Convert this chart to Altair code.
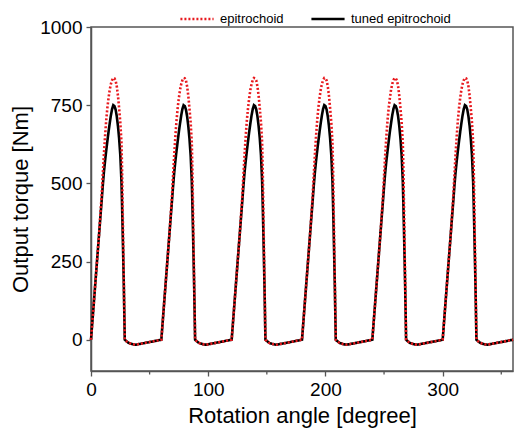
import altair as alt
import pandas as pd

# One 60-degree cycle (angle offset within cycle, torque in Nm)
cycle_offset = [0, 1, 2, 3, 4, 5, 6, 7, 8, 9, 10, 11, 12, 13, 14, 15, 16, 17, 18, 19,
                20, 21, 22, 23, 24, 25, 26, 26.5, 27, 27.5, 28, 28.8,
                30, 32, 35, 38, 45, 52]
tuned_cycle = [0, 49, 98, 147, 196, 245, 294, 343, 392, 440, 490, 535, 572, 605, 636, 666, 693, 718, 738, 750,
               747, 736, 714, 683, 643, 590, 505, 432, 350, 262, 172, 0,
               -4, -10, -14, -16, -11, -6]
epi_cycle = [0, 49, 98, 147, 196, 245, 294, 343, 400, 455, 525, 592, 652, 703, 743, 774, 800, 818, 830, 837,
             836, 829, 810, 780, 740, 695, 630, 545, 425, 305, 185, 0,
             -4, -10, -14, -16, -11, -6]
cycle_starts = [0, 60, 120, 180, 240, 300]
end_angle = [360]
end_value = [0]

series_names = ["epitrochoid", "tuned epitrochoid"]
x_ticks = [0, 100, 200, 300]
x_minor_ticks = [50, 150, 250, 350]
y_ticks = [0, 250, 500, 750, 1000]

rows = []
for name, vals in [("tuned epitrochoid", tuned_cycle), ("epitrochoid", epi_cycle)]:
    for s in cycle_starts:
        for o, v in zip(cycle_offset, vals):
            rows.append({"angle": s + o, "torque": v, "series": name})
    for a, v in zip(end_angle, end_value):
        rows.append({"angle": a, "torque": v, "series": name})
df = pd.DataFrame(rows)

FONT = "Liberation Sans"
AX = "#555555"

x_enc = alt.X("angle:Q", scale=alt.Scale(domain=[0, 360], nice=False, zero=False),
              axis=alt.Axis(values=x_ticks, title="Rotation angle [degree]", format="d",
                            grid=False, tickSize=5, labelPadding=4, titlePadding=6,
                            labelFlush=False))
y_enc = alt.Y("torque:Q", scale=alt.Scale(domain=[-100, 1000], nice=False),
              axis=alt.Axis(values=y_ticks, title="Output torque [Nm]", format="d",
                            grid=False, tickSize=5, labelPadding=4, titlePadding=7,
                            labelFlush=False))
color = alt.Color("series:N", scale=alt.Scale(domain=series_names, range=["#e8191e", "#000000"]),
                  legend=alt.Legend(title=None, orient="none", legendX=88, legendY=-26,
                                    direction="horizontal", symbolType="stroke",
                                    symbolSize=1100, symbolStrokeWidth=2.5,
                                    labelFontSize=13, labelFont=FONT, labelColor="#000000",
                                    columnPadding=22, labelOffset=5))
dash = alt.StrokeDash("series:N", scale=alt.Scale(domain=series_names, range=[[2, 2], [1, 0]]),
                      legend=None)

black = alt.Chart(df[df.series == "tuned epitrochoid"]).mark_line(strokeWidth=2.6).encode(
    x=x_enc, y=y_enc, color=color, strokeDash=dash, order="angle:Q")
red = alt.Chart(df[df.series == "epitrochoid"]).mark_line(strokeWidth=2.6).encode(
    x=x_enc, y=y_enc, color=color, strokeDash=dash, order="angle:Q")

minor = alt.Chart(pd.DataFrame({"angle": x_minor_ticks})).mark_rule(
    color=AX, strokeWidth=1.3, clip=False).encode(
    x="angle:Q", y=alt.value(344), y2=alt.value(347.5))

chart = alt.layer(black, red, minor).properties(
    width=422, height=344,
    autosize=alt.AutoSizeParams(type="none"),
    padding={"left": 91, "top": 27, "right": 1, "bottom": 59},
).configure_axis(
    domainColor=AX, domainWidth=1.5, tickColor=AX, tickWidth=1.3,
    labelFont=FONT, labelFontSize=19, labelColor="#000000",
    titleFont=FONT, titleFontSize=22, titleFontWeight="normal", titleColor="#000000",
).configure_view(stroke=AX, strokeWidth=1.5)

chart.save("out.html", embed_options={"renderer": "svg", "actions": False})
